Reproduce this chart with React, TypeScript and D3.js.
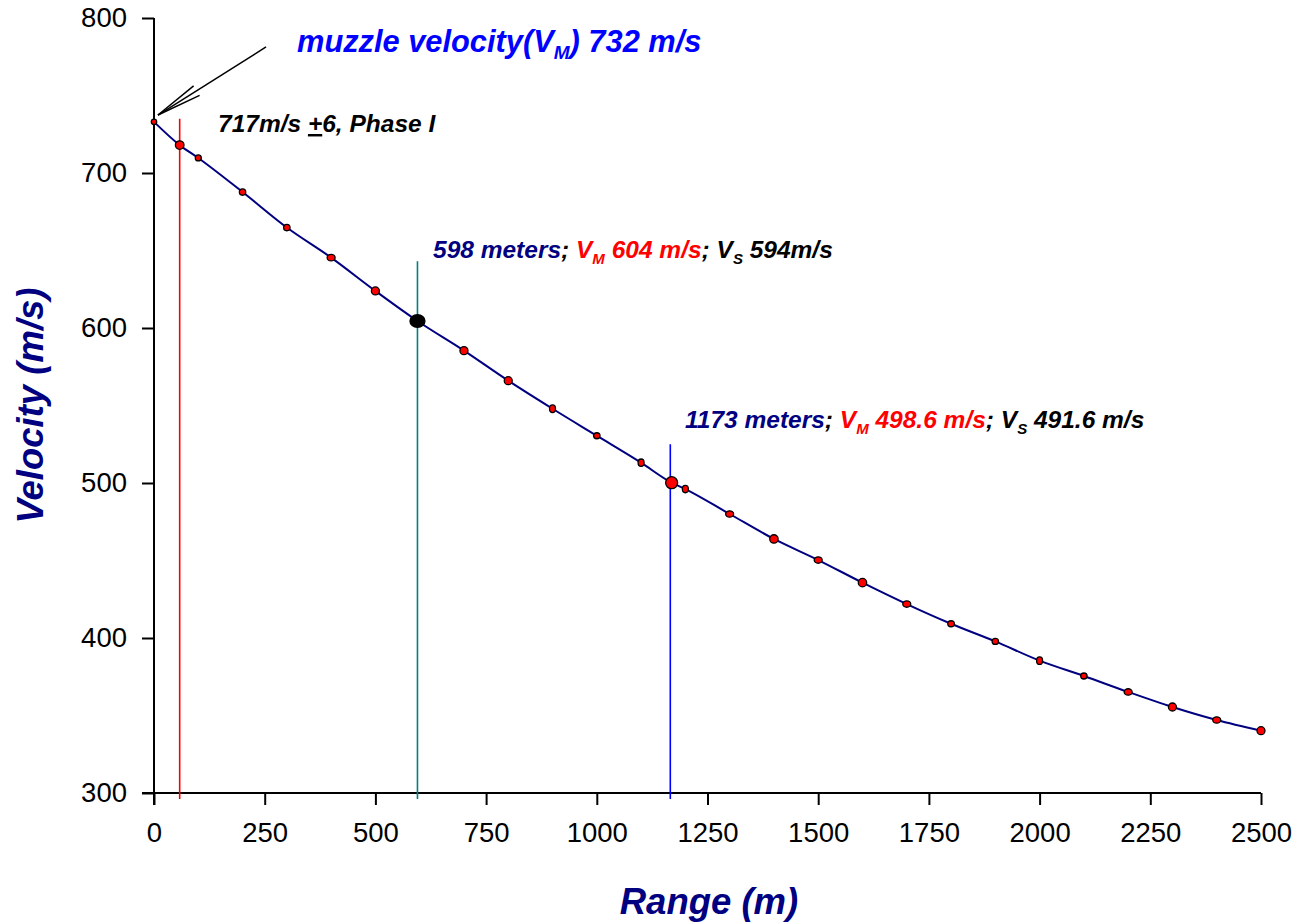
import React, { useEffect, useRef } from "react";
import * as d3 from "d3";

// ---- data ----
const rangeM = [0, 58, 100, 200, 300, 400, 500, 595, 700, 800, 900, 1000, 1100, 1169, 1200, 1300, 1400, 1500, 1600, 1700, 1800, 1900, 2000, 2100, 2200, 2300, 2400, 2500];
const velocity = [733, 718, 709.7, 687.7, 664.8, 645.4, 623.9, 604.5, 585.4, 566, 547.9, 530.5, 513.1, 500.2, 496.1, 480, 463.9, 450.3, 435.7, 421.9, 409.2, 397.8, 385.4, 375.5, 365.2, 355.5, 347.1, 340.2];
const xTicks = [0, 250, 500, 750, 1000, 1250, 1500, 1750, 2000, 2250, 2500];
const yTicks = [300, 400, 500, 600, 700, 800];
// vertical reference lines: [range, top velocity]
const refLineX = [58, 595, 1166];
const refLineTop = [735, 643, 525];

// ---- styles (separate from data) ----
const markerRx = [2.7, 4.3, 3, 3.2, 3.2, 4, 4, 7.5, 4, 4, 3, 3.2, 3, 6, 3, 4, 4.2, 4, 4.2, 4, 3.3, 3.2, 3, 3.2, 4, 4, 4, 4];
const markerRy = [2.7, 4.3, 3, 3.2, 3.2, 3.2, 4, 6.3, 4, 4, 3.8, 3, 3.7, 6, 3.7, 3.2, 4.2, 3.2, 4.2, 3.2, 3, 3, 3.8, 3, 3.2, 4, 3.2, 4];
const markerFill = rangeM.map((r) => (r === 595 ? "#000000" : "#FF0000"));
const refLineColor = ["#FF0000", "#008080", "#0000FF"];

const W = 1297;
const H = 924;
const FONT = "'Liberation Sans', Arial, Helvetica, sans-serif";
const ANN = 24.5;
const SUB = 15;

export default function App() {
  const xAxisRef = useRef<SVGGElement>(null);
  const yAxisRef = useRef<SVGGElement>(null);

  const x = d3.scaleLinear().domain([0, 2500]).range([154, 1261]);
  const y = d3.scaleLinear().domain([300, 800]).range([793, 18]);

  useEffect(() => {
    const xa = d3
      .axisBottom(x)
      .tickValues(xTicks)
      .tickSize(12)
      .tickSizeOuter(0)
      .tickPadding(17)
      .tickFormat((d) => String(d));
    const ya = d3
      .axisLeft(y)
      .tickValues(yTicks)
      .tickSize(12)
      .tickSizeOuter(0)
      .tickPadding(15)
      .tickFormat((d) => String(d));
    const gx = d3.select(xAxisRef.current!);
    gx.call(xa as any);
    gx.select(".domain").remove();
    gx.selectAll(".tick line").attr("stroke", "#000").attr("stroke-width", 2);
    gx.selectAll(".tick text").attr("font-size", 27.5).attr("font-family", FONT).attr("fill", "#000");
    const gy = d3.select(yAxisRef.current!);
    gy.call(ya as any);
    gy.select(".domain").remove();
    gy.selectAll(".tick line").attr("stroke", "#000").attr("stroke-width", 2);
    gy.selectAll(".tick text").attr("font-size", 27.5).attr("font-family", FONT).attr("fill", "#000");
  }, []);

  const pts = rangeM.map((r, i) => [x(r), y(velocity[i])] as [number, number]);
  const line = d3.line().curve(d3.curveMonotoneX)(pts) || "";

  // arrow annotation (in data space)
  const tip: [number, number] = [x(9), y(737.4)];
  const tail: [number, number] = [x(253), y(781.3)];
  const ang = Math.atan2(tail[1] - tip[1], tail[0] - tip[0]);
  const barbLen = 46;
  const barb = (da: number): [number, number] => [tip[0] + barbLen * Math.cos(ang + da), tip[1] + barbLen * Math.sin(ang + da)];
  const b1 = barb((-7 * Math.PI) / 180);
  const b2 = barb((7 * Math.PI) / 180);

  return (
    <svg width={W} height={H} style={{ position: "absolute", left: 0, top: 0, background: "#fff" }} fontFamily={FONT}>
      {/* axes lines */}
      <line x1={x(0)} x2={x(0)} y1={y(800)} y2={y(300) + 12} stroke="#000" strokeWidth={2} />
      <line x1={x(0) - 12} x2={x(2500)} y1={y(300)} y2={y(300)} stroke="#000" strokeWidth={2} />
      <g ref={xAxisRef} transform={`translate(0,${y(300)})`} />
      <g ref={yAxisRef} transform={`translate(${x(0)},0)`} />

      {/* reference lines */}
      {refLineX.map((rx, i) => (
        <line key={i} x1={x(rx)} x2={x(rx)} y1={y(refLineTop[i])} y2={y(300) + 6} stroke={refLineColor[i]} strokeWidth={1.6} />
      ))}

      {/* curve */}
      <path d={line} fill="none" stroke="#000080" strokeWidth={2} />

      {/* markers */}
      {pts.map((p, i) => (
        <ellipse key={i} cx={p[0]} cy={p[1]} rx={markerRx[i]} ry={markerRy[i]} fill={markerFill[i]} stroke="#000" strokeWidth={1.3} />
      ))}

      {/* arrow */}
      <line x1={tail[0]} y1={tail[1]} x2={tip[0]} y2={tip[1]} stroke="#000" strokeWidth={1.5} />
      <line x1={b1[0]} y1={b1[1]} x2={tip[0]} y2={tip[1]} stroke="#000" strokeWidth={1.5} />
      <line x1={b2[0]} y1={b2[1]} x2={tip[0]} y2={tip[1]} stroke="#000" strokeWidth={1.5} />

      {/* annotations */}
      <text x={297} y={52} fontSize={30.8} fontWeight="bold" fontStyle="italic" fill="#0000FF">
        muzzle velocity(V<tspan fontSize={19} dy={7}>M</tspan>
        <tspan dy={-7}>) 732 m/s</tspan>
      </text>
      <text x={218} y={132} fontSize={ANN} fontWeight="bold" fontStyle="italic" fill="#000">
        717m/s <tspan style={{ textDecoration: "underline" }}>+</tspan>6, Phase I
      </text>
      <text x={433} y={258} fontSize={ANN} fontWeight="bold" fontStyle="italic">
        <tspan fill="#000080">598 meters</tspan>
        <tspan fill="#000">; </tspan>
        <tspan fill="#FF0000">V</tspan>
        <tspan fill="#FF0000" fontSize={SUB} dy={6}>M</tspan>
        <tspan fill="#FF0000" dy={-6}> 604 m/s</tspan>
        <tspan fill="#000">; V</tspan>
        <tspan fill="#000" fontSize={SUB} dy={6}>S</tspan>
        <tspan fill="#000" dy={-6}> 594m/s</tspan>
      </text>
      <text x={685} y={428} fontSize={ANN} fontWeight="bold" fontStyle="italic">
        <tspan fill="#000080">1173 meters</tspan>
        <tspan fill="#000">; </tspan>
        <tspan fill="#FF0000">V</tspan>
        <tspan fill="#FF0000" fontSize={SUB} dy={6}>M</tspan>
        <tspan fill="#FF0000" dy={-6}> 498.6 m/s</tspan>
        <tspan fill="#000">; V</tspan>
        <tspan fill="#000" fontSize={SUB} dy={6}>S</tspan>
        <tspan fill="#000" dy={-6}> 491.6 m/s</tspan>
      </text>

      {/* axis titles */}
      <text x={709} y={914} textAnchor="middle" fontSize={36.5} fontWeight="bold" fontStyle="italic" fill="#000080">
        Range (m)
      </text>
      <text transform={`translate(43,${(y(300) + y(800)) / 2}) rotate(-90)`} textAnchor="middle" fontSize={36.5} fontWeight="bold" fontStyle="italic" fill="#000080">
        Velocity (m/s)
      </text>
    </svg>
  );
}
